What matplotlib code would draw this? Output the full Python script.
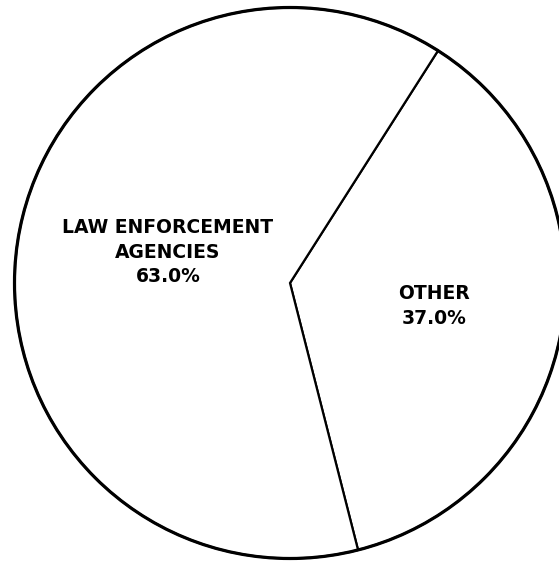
import matplotlib
matplotlib.use('Agg')
import matplotlib.pyplot as plt

# shares of total, percent
labels = ['OTHER', 'LAW ENFORCEMENT\nAGENCIES']
shares = [37.0, 63.0]

plt.rcParams['font.family'] = ['DejaVu Sans']

fig = plt.figure(figsize=(5.59, 5.64), dpi=100)
ax = fig.add_axes([0, 0, 1, 1])

# pixel-like data coords so the circle lands where it does in the original
cx, cy, r = 290, 281, 275.5
wedges, texts = ax.pie(shares, startangle=-75.7, counterclock=True,
                       center=(cx, cy), radius=r,
                       colors=['white', 'white'],
                       wedgeprops=dict(edgecolor='black', linewidth=1.6))

# thicker outer rim
rim = plt.Circle((cx, cy), r, fill=False, edgecolor='black', linewidth=2.3)
ax.add_patch(rim)

ax.text(cx + 144, cy - 23, 'OTHER\n%.1f%%' % shares[0], ha='center', va='center',
        fontsize=13.5, fontweight='bold', linespacing=1.35)
ax.text(cx - 122, cy + 31, '%s\n%.1f%%' % (labels[1], shares[1]), ha='center',
        va='center', fontsize=13.5, fontweight='bold', linespacing=1.35)

ax.set_xlim(0, 559)
ax.set_ylim(0, 564)
ax.set_aspect('equal')
ax.axis('off')

fig.savefig('out.png', dpi=100)
